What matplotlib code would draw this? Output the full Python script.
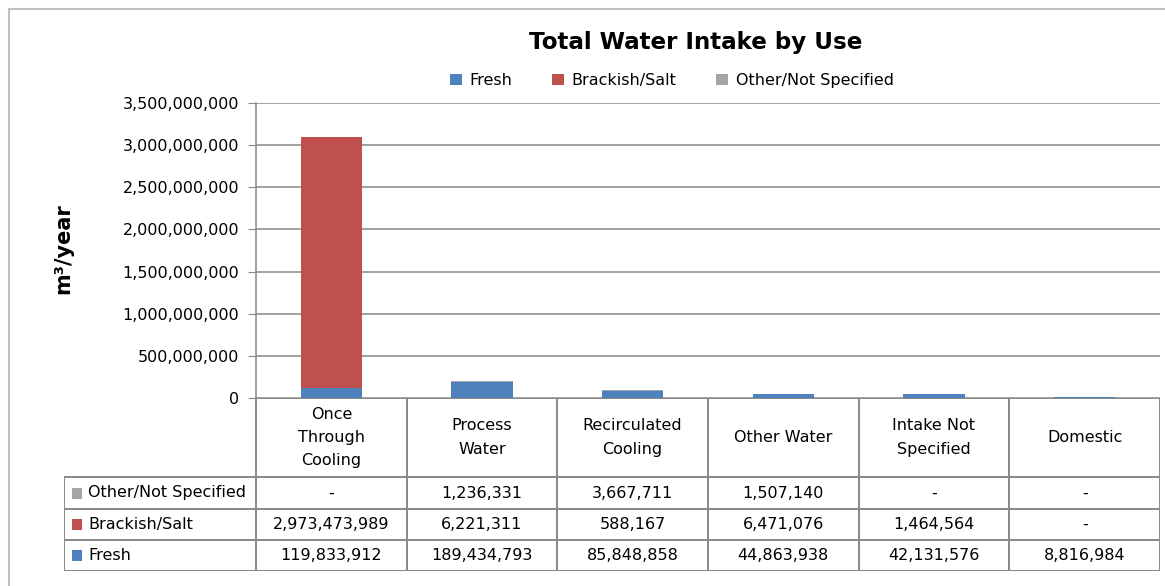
import numpy as np
import matplotlib.pyplot as plt
from matplotlib.patches import Rectangle
from matplotlib.ticker import FuncFormatter

plt.rcParams['font.family'] = ['DejaVu Sans']

# -------------------------------
# Data
# -------------------------------
categories = ["Once\nThrough\nCooling", "Process\nWater", "Recirculated\nCooling",
              "Other Water", "Intake Not\nSpecified", "Domestic"]
fresh = np.array([119833912, 189434793, 85848858, 44863938, 42131576, 8816984])
brackish = np.array([2973473989, 6221311, 588167, 6471076, 1464564, 0])
other = np.array([0, 1236331, 3667711, 1507140, 0, 0])

series_names = ["Fresh", "Brackish/Salt", "Other/Not Specified"]
colors = ["#4F81BD", "#C0504D", "#A5A5A5"]
y_ticks = np.arange(0, 3.5e9 + 1, 5e8)

W, H = 1165, 586
fig = plt.figure(figsize=(W / 100, H / 100), dpi=100)

def fx(px):
    return px / W

def fy(px):
    return 1 - px / H

# outer chart border (cropped at right/bottom)
fig.patches.append(Rectangle((fx(9), fy(650)), fx(1250) - fx(9), fy(9) - fy(650),
                             transform=fig.transFigure, fill=False,
                             edgecolor="#BFBFBF", lw=1.5))

# -------------------------------
# Main bar axes
# -------------------------------
left, right, top, bottom = 256, 1160, 103, 398
ax = fig.add_axes([fx(left), fy(bottom), fx(right - left), fy(top) - fy(bottom)])
x = np.arange(len(categories))
bw = 0.405
ax.bar(x, fresh, bw, color=colors[0], label=series_names[0], zorder=3)
ax.bar(x, brackish, bw, bottom=fresh, color=colors[1], label=series_names[1], zorder=3)
ax.bar(x, other, bw, bottom=fresh + brackish, color=colors[2], label=series_names[2], zorder=3)

ax.set_xlim(-0.5, len(categories) - 0.5)
ax.set_ylim(0, 3.5e9)
ax.set_yticks(y_ticks)
ax.yaxis.set_major_formatter(FuncFormatter(lambda v, p: f"{int(v):,}"))
ax.tick_params(axis='y', labelsize=11.5, length=6, color="#888888", pad=6)
ax.set_xticks([])
ax.grid(axis='y', color="#888888", lw=1.1, zorder=0)
for s in ["top", "right", "bottom"]:
    ax.spines[s].set_visible(False)
ax.spines["left"].set_color("#888888")
ax.spines["left"].set_linewidth(1.1)
ax.patch.set_alpha(0)

fig.text(fx(63), fy(249), "m³/year", rotation=90, fontsize=15, fontweight="bold",
         ha="center", va="center")
fig.text(fx(696), fy(43), "Total Water Intake by Use", fontsize=16.6,
         fontweight="bold", ha="center", va="center")
fig.legend(loc="center", bbox_to_anchor=(fx(672), fy(81)), ncol=3, frameon=False,
           fontsize=11.5, handlelength=0.7, handleheight=0.7, columnspacing=2.5,
           handletextpad=0.5)

# -------------------------------
# Data table below the chart
# -------------------------------
tleft, tbot = 64, 571
tax = fig.add_axes([fx(tleft), fy(tbot), fx(right - tleft), fy(bottom) - fy(tbot)])
lab_w = (left - tleft) / ((right - left) / len(categories))
tax.set_xlim(-0.5 - lab_w, len(categories) - 0.5)
tax.set_ylim(tbot - bottom, 0)
tax.axis("off")
rows = [0, 79, 111, 142, 173]
lc = "#888888"
lw = 1.4

# horizontal lines
tax.plot([-0.5, len(categories) - 0.5], [rows[0]] * 2, color=lc, lw=lw)
for r in rows[1:]:
    tax.plot([-0.5 - lab_w, len(categories) - 0.5], [r] * 2, color=lc, lw=lw)
# vertical lines
for i in range(len(categories) + 1):
    tax.plot([i - 0.5] * 2, [rows[0], rows[-1]], color=lc, lw=lw)
tax.plot([-0.5 - lab_w] * 2, [rows[1], rows[-1]], color=lc, lw=lw)

for i, c in enumerate(categories):
    tax.text(i, (rows[0] + rows[1]) / 2, c, ha="center", va="center", fontsize=11.5,
             linespacing=1.7)

def fmt(v):
    return f"{int(v):,}" if v > 0 else "-"

table_rows = [(series_names[2], other, colors[2]),
              (series_names[1], brackish, colors[1]),
              (series_names[0], fresh, colors[0])]
for k, (name, vals, col) in enumerate(table_rows):
    yc = (rows[k + 1] + rows[k + 2]) / 2
    tax.add_patch(Rectangle((-0.5 - lab_w + 0.05, yc - 5.5), 0.07, 11,
                            color=col, lw=0))
    tax.text(-0.5 - lab_w + 0.16, yc, name, ha="left", va="center", fontsize=11.5)
    for i, v in enumerate(vals):
        tax.text(i, yc, fmt(v), ha="center", va="center", fontsize=11.5)

fig.savefig("out.png", dpi=100)
